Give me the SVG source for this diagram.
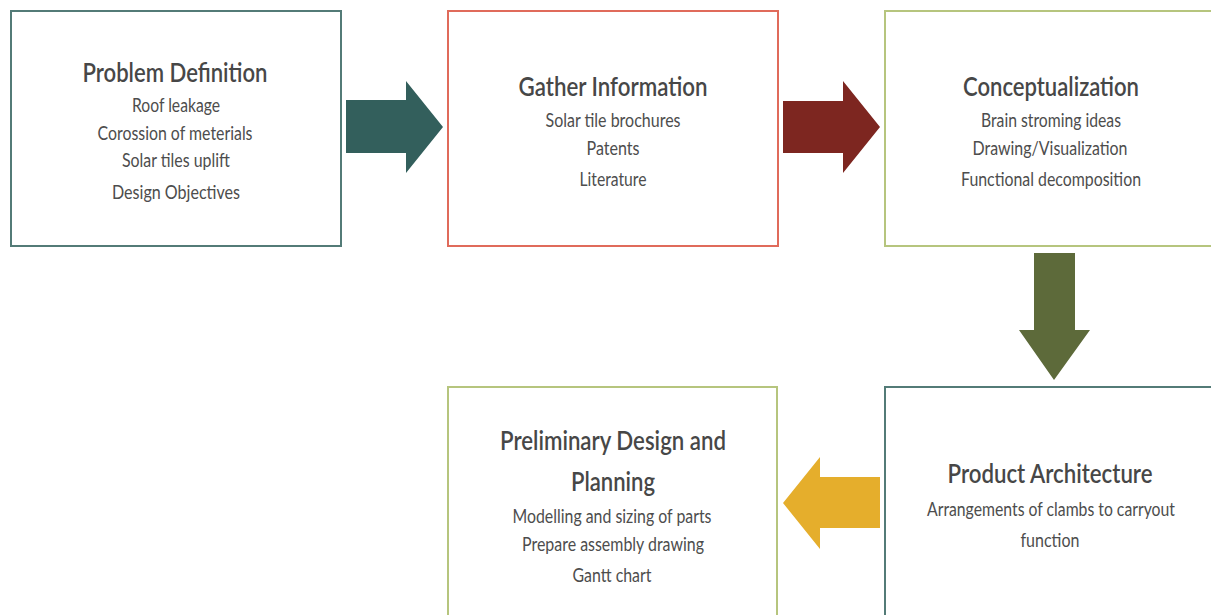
<svg xmlns="http://www.w3.org/2000/svg" width="1211" height="615" viewBox="0 0 1211 615">
  <style>
    .box { fill: #ffffff; stroke-width: 2; }
    .teal { stroke: #537b77; }
    .red { stroke: #e06b5b; }
    .olive { stroke: #b6c57e; }
    .title { font-family: Lato, "Liberation Sans", sans-serif; font-size: 27px; fill: #474747; text-anchor: middle; font-weight: 600; }
    .line { font-family: Lato, "Liberation Sans", sans-serif; font-size: 18.5px; fill: #4d4d4d; text-anchor: middle; }
  </style>
  <rect width="1211" height="615" fill="#ffffff"/>

  <!-- step arrows between stages -->
  <g id="connectors">
    <polygon points="346,100 406,100 406,81 443,127 406,173 406,153 346,153" fill="#335f5c"/>
    <polygon points="783,101 843,101 843,81 880,127 843,173 843,153 783,153" fill="#7d2620"/>
    <polygon points="1034,253 1075,253 1075,330 1090,330 1054,380 1019,330 1034,330" fill="#5d6a3a"/>
    <polygon points="880,477 820,477 820,457 783,503 820,549 820,528 880,528" fill="#e5ae2c"/>
  </g>

  <g id="problem-definition">
    <rect class="box teal" x="11" y="11" width="330" height="235"/>
    <text class="title" x="175" y="82" textLength="185" lengthAdjust="spacingAndGlyphs">Problem Definition</text>
    <text class="line" x="176" y="112" textLength="88" lengthAdjust="spacingAndGlyphs">Roof leakage</text>
    <text class="line" x="175" y="140" textLength="155" lengthAdjust="spacingAndGlyphs">Corossion of meterials</text>
    <text class="line" x="176" y="167" textLength="108" lengthAdjust="spacingAndGlyphs">Solar tiles uplift</text>
    <text class="line" x="176" y="199" textLength="128" lengthAdjust="spacingAndGlyphs">Design Objectives</text>
  </g>

  <g id="gather-information">
    <rect class="box red" x="448" y="11" width="330" height="235"/>
    <text class="title" x="613" y="96" textLength="189" lengthAdjust="spacingAndGlyphs">Gather Information</text>
    <text class="line" x="613" y="127" textLength="135" lengthAdjust="spacingAndGlyphs">Solar tile brochures</text>
    <text class="line" x="613" y="155" textLength="53" lengthAdjust="spacingAndGlyphs">Patents</text>
    <text class="line" x="613" y="186" textLength="67" lengthAdjust="spacingAndGlyphs">Literature</text>
  </g>

  <g id="conceptualization">
    <rect class="box olive" x="885" y="11" width="340" height="235"/>
    <text class="title" x="1051" y="96" textLength="176" lengthAdjust="spacingAndGlyphs">Conceptualization</text>
    <text class="line" x="1051" y="127" textLength="140" lengthAdjust="spacingAndGlyphs">Brain stroming ideas</text>
    <text class="line" x="1050" y="155" textLength="155" lengthAdjust="spacingAndGlyphs">Drawing/Visualization</text>
    <text class="line" x="1051" y="186" textLength="180" lengthAdjust="spacingAndGlyphs">Functional decomposition</text>
  </g>

  <g id="product-architecture">
    <rect class="box teal" x="885" y="387" width="340" height="240"/>
    <text class="title" x="1050" y="483" textLength="205" lengthAdjust="spacingAndGlyphs">Product Architecture</text>
    <text class="line" x="1051" y="516" textLength="248" lengthAdjust="spacingAndGlyphs">Arrangements of clambs to carryout</text>
    <text class="line" x="1050" y="547" textLength="59" lengthAdjust="spacingAndGlyphs">function</text>
  </g>

  <g id="preliminary-design">
    <rect class="box olive" x="448" y="387" width="329" height="240"/>
    <text class="title" x="613" y="450" textLength="226" lengthAdjust="spacingAndGlyphs">Preliminary Design and</text>
    <text class="title" x="613" y="491" textLength="84" lengthAdjust="spacingAndGlyphs">Planning</text>
    <text class="line" x="612" y="523" textLength="199" lengthAdjust="spacingAndGlyphs">Modelling and sizing of parts</text>
    <text class="line" x="613" y="551" textLength="182" lengthAdjust="spacingAndGlyphs">Prepare assembly drawing</text>
    <text class="line" x="612" y="582" textLength="79" lengthAdjust="spacingAndGlyphs">Gantt chart</text>
  </g>
</svg>
